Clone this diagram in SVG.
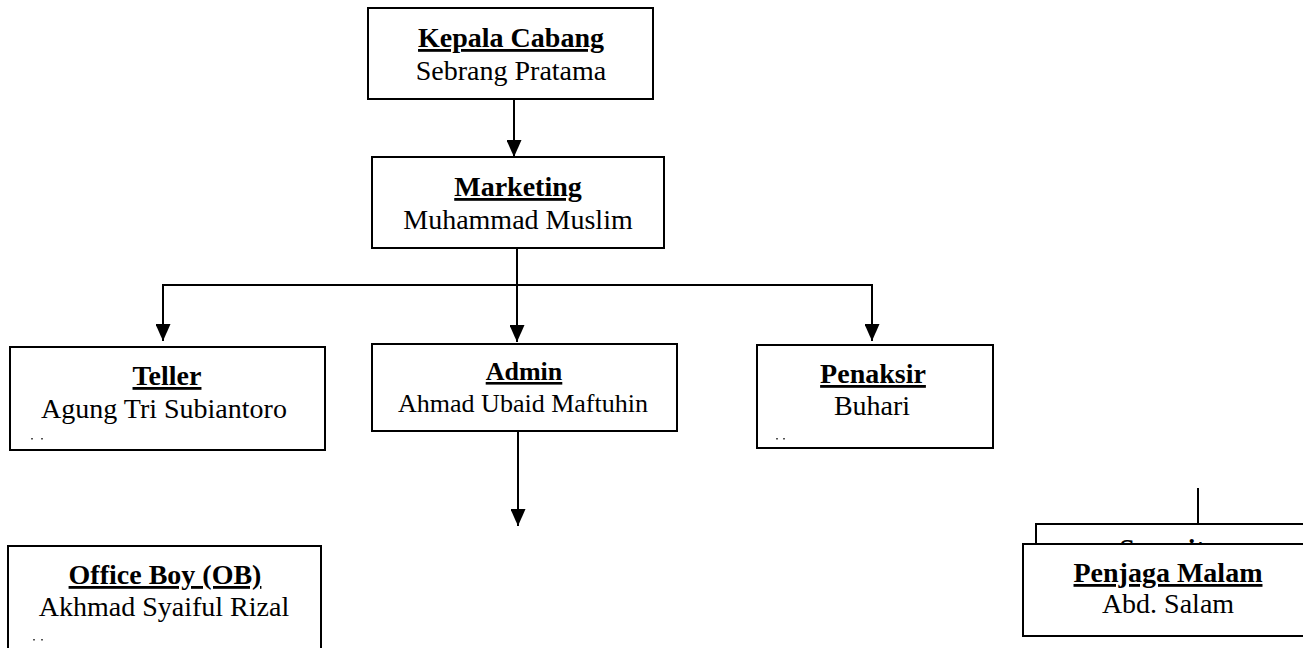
<svg xmlns="http://www.w3.org/2000/svg" width="1303" height="648" viewBox="0 0 1303 648">
<defs>
<style>
.box{fill:#fff;stroke:#000;stroke-width:2}
.t{font-family:"Liberation Serif","Times New Roman",serif;font-size:28px;font-weight:bold;text-anchor:middle;text-decoration:underline;text-decoration-thickness:2.5px;fill:#000}
.n{font-family:"Liberation Serif","Times New Roman",serif;font-size:28px;text-anchor:middle;fill:#000}
.s{font-size:26px}
.ln{fill:none;stroke:#000;stroke-width:2}
.dot{fill:#555}
</style>
<marker id="ah" viewBox="0 0 17 15" refX="17" refY="7.5" markerWidth="17" markerHeight="15" markerUnits="userSpaceOnUse" orient="auto">
<path d="M0,0 L17,7.5 L0,15 Z" fill="#000"/>
</marker>
<clipPath id="secclip"><rect x="1030" y="525" width="280" height="19"/></clipPath>
</defs>
<rect width="1303" height="648" fill="#fff"/>
<g id="connectors">
<line class="ln" x1="514" y1="99" x2="514" y2="157" marker-end="url(#ah)"/>
<line class="ln" x1="517" y1="248" x2="517" y2="342" marker-end="url(#ah)"/>
<line class="ln" x1="162" y1="285" x2="873" y2="285"/>
<line class="ln" x1="163" y1="284" x2="163" y2="341" marker-end="url(#ah)"/>
<line class="ln" x1="872" y1="284" x2="872" y2="341" marker-end="url(#ah)"/>
<line class="ln" x1="518" y1="431" x2="518" y2="526" marker-end="url(#ah)"/>
<line class="ln" x1="1198" y1="488" x2="1198" y2="524"/>
</g>
<g id="kepala">
<rect class="box" x="368" y="8" width="285" height="91"/>
<text class="t" x="511" y="47">Kepala Cabang</text>
<text class="n" x="511" y="80">Sebrang Pratama</text>
</g>
<g id="marketing">
<rect class="box" x="372" y="157" width="292" height="91"/>
<text class="t" x="518" y="196">Marketing</text>
<text class="n" x="518" y="229">Muhammad Muslim</text>
</g>
<g id="teller">
<rect class="box" x="10" y="347" width="315" height="103"/>
<text class="t" x="167" y="385">Teller</text>
<text class="n" x="164" y="418">Agung Tri Subiantoro</text>
<rect class="dot" x="31" y="438" width="2" height="1.5"/>
<rect class="dot" x="41" y="438" width="2" height="1.5"/>
</g>
<g id="admin">
<rect class="box" x="372" y="344" width="305" height="87"/>
<text class="t s" x="524" y="380">Admin</text>
<text class="n s" x="523" y="412">Ahmad Ubaid Maftuhin</text>
</g>
<g id="penaksir">
<rect class="box" x="757" y="345" width="236" height="103"/>
<text class="t" x="873" y="383">Penaksir</text>
<text class="n" x="872" y="415">Buhari</text>
<rect class="dot" x="776" y="438" width="2" height="1.5"/>
<rect class="dot" x="783" y="438" width="2" height="1.5"/>
</g>
<g id="officeboy">
<rect class="box" x="8" y="546" width="313" height="110"/>
<text class="t" x="165" y="584">Office Boy (OB)</text>
<text class="n" x="164" y="616">Akhmad Syaiful Rizal</text>
<rect class="dot" x="33" y="639" width="2" height="1.5"/>
<rect class="dot" x="41" y="639" width="2" height="1.5"/>
</g>
<g id="security">
<rect class="box" x="1036" y="524" width="300" height="100"/>
<text class="t" x="1169" y="558" clip-path="url(#secclip)" style="text-decoration:none">Security</text>
</g>
<g id="penjaga">
<rect class="box" x="1023" y="544" width="300" height="92"/>
<text class="t" x="1168" y="582">Penjaga Malam</text>
<text class="n" x="1168" y="613">Abd. Salam</text>
</g>
</svg>
